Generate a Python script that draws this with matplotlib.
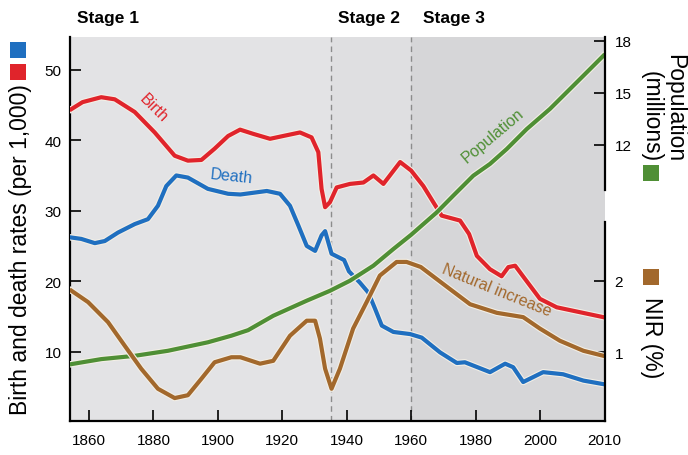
import matplotlib
matplotlib.use("Agg")
import matplotlib.pyplot as plt
import matplotlib.patheffects as pe
from matplotlib.patches import Rectangle

plt.rcParams['font.family'] = ['Liberation Sans', 'DejaVu Sans']

# x positions follow the drawn axis (the last tick, labelled 2010, sits at 2020)
birth_years = [1854.5, 1858, 1863.8, 1868, 1874.2, 1880.4, 1886.6, 1890.7, 1894.9, 1899, 1903.2,
               1906.9, 1911, 1916.2, 1920.3, 1925.5, 1929.1, 1931.2, 1932.2, 1933.3, 1934.8, 1936.9,
               1941, 1945.2, 1948.3, 1951.4, 1956.6, 1960, 1963.8, 1966.9, 1969.5, 1975.2, 1978,
               1980.4, 1984.5, 1988.1, 1990.2, 1992.3, 1995.4, 2000, 2005.2, 2011.4, 2019.7]
birth = [44.4, 45.4, 46.1, 45.8, 44.0, 41.1, 37.8, 37.1, 37.2, 38.8, 40.6,
         41.5, 40.9, 40.2, 40.6, 41.1, 40.4, 38.3, 33.1, 30.5, 31.2, 33.3,
         33.8, 34.0, 35.0, 33.8, 36.9, 35.7, 33.5, 31.2, 29.3, 28.6, 26.7,
         23.6, 21.7, 20.7, 22.0, 22.2, 20.3, 17.5, 16.3, 15.7, 14.9]

death_years = [1854.5, 1857.6, 1861.8, 1864.9, 1869, 1874.2, 1878.3, 1881.4, 1884, 1887.1, 1890.7,
               1896.9, 1903.2, 1907, 1915.2, 1919.3, 1922.4, 1925, 1927.6, 1930.2, 1932.2, 1933.3,
               1934.3, 1935.3, 1939.2, 1940.7, 1944.1, 1946.7, 1948.8, 1950.9, 1954.5, 1959.7,
               1963.3, 1969, 1974.2, 1976.7, 1984.5, 1989.2, 1991.7, 1994.8, 2001, 2007.2, 2013.5, 2019.7]
death = [26.2, 26.0, 25.4, 25.7, 26.9, 28.1, 28.8, 30.7, 33.5, 35.0, 34.7,
         33.1, 32.4, 32.3, 32.8, 32.4, 30.7, 27.9, 25.0, 24.3, 26.5, 27.1,
         25.5, 23.9, 23.0, 21.4, 19.8, 18.4, 16.1, 13.7, 12.8, 12.5,
         12.0, 9.9, 8.4, 8.5, 7.1, 8.3, 7.8, 5.7, 7.1, 6.8, 5.9, 5.4]

nir_years = [1854.5, 1859.7, 1865.9, 1871.1, 1876.2, 1881.4, 1886.6, 1890.7, 1894.9, 1899, 1904.2,
             1907, 1913.1, 1917.2, 1922.4, 1927.6, 1930.2, 1931.7, 1933.3, 1935.3, 1937.9, 1942,
             1946.2, 1950.3, 1955.5, 1958.6, 1963, 1972.1, 1978.3, 1986.6, 1994.8, 2000, 2006.2,
             2013.5, 2019.7]
nir = [1.86, 1.70, 1.42, 1.09, 0.77, 0.49, 0.36, 0.40, 0.63, 0.86, 0.93,
       0.93, 0.84, 0.88, 1.23, 1.44, 1.44, 1.19, 0.77, 0.49, 0.77, 1.33,
       1.70, 2.07, 2.26, 2.26, 2.19, 1.88, 1.67, 1.55, 1.49, 1.33, 1.16,
       1.02, 0.95]

pop_years = [1854.5, 1863.8, 1874.2, 1884.5, 1896.9, 1904.2, 1909.4, 1917.2, 1927.6, 1934.8, 1941,
             1948.3, 1954.5, 1960, 1968, 1973.1, 1979.3, 1984.5, 1989.7, 1995.9, 2003.1, 2008.3,
             2013.5, 2019.7]
population = [-0.66, -0.37, -0.18, 0.11, 0.60, 0.98, 1.30, 2.13, 3.00, 3.57, 4.15,
              5.02, 5.98, 6.80, 8.10, 9.06, 10.21, 10.89, 11.75, 12.90, 14.06, 15.02,
              15.98, 17.13]

xtick_pos = [1860, 1880, 1900, 1920, 1940, 1960, 1980, 2000, 2020]
xtick_labels = ["1860", "1880", "1900", "1920", "1940", "1960", "1980", "2000", "2010"]
stage_lines = [1935, 1960]

red = '#e0242b'
blue = '#1f6fc0'
green = '#4f8f35'
brown = '#a2682c'
halo = [pe.Stroke(linewidth=4.6, foreground='#f3efe6'), pe.Normal()]

fig = plt.figure(figsize=(6.88, 4.56), dpi=100)
ax = fig.add_axes([70/688, 1-422/456, 535/688, 384/456])

ax.axvspan(1854.1, 1935, color='#e3e3e5', lw=0, zorder=0)
ax.axvspan(1935, 1960, color='#dfdfe1', lw=0, zorder=0)
ax.axvspan(1960, 2020.2, color='#d6d6d8', lw=0, zorder=0)
for x in stage_lines:
    ax.axvline(x, color='#8c8c8c', lw=1, ls=(0, (4, 3)), zorder=1)

ax.plot(birth_years, birth, color=red, lw=3, solid_joinstyle='round', path_effects=halo, zorder=3)
ax.plot(death_years, death, color=blue, lw=3, solid_joinstyle='round', path_effects=halo, zorder=3)
ax.set_xlim(1854.1, 2020.2)
ax.set_ylim(0.17, 54.64)

ax2 = ax.twinx()
ax2.plot(pop_years, population, color=green, lw=3, solid_joinstyle='round', path_effects=halo)
ax2.set_ylim(-3.94, 18.21)

ax3 = ax.twinx()
ax3.plot(nir_years, nir, color=brown, lw=3, solid_joinstyle='round', path_effects=halo)
ax3.set_ylim(0.04, 5.40)

for a in (ax, ax2, ax3):
    a.spines['top'].set_visible(False)
    for s in a.spines.values():
        s.set_linewidth(1.6)
ax.spines['right'].set_visible(False)
for a in (ax2, ax3):
    a.spines['left'].set_visible(False)
    a.spines['bottom'].set_visible(False)
ax2.spines['right'].set_bounds(9.39, 18.21)
ax3.spines['right'].set_bounds(0.04, 2.82)

ax.set_xticks(xtick_pos[:-1] + [xtick_pos[-1]])
ax.set_xticklabels(xtick_labels)
ax.set_yticks([10, 20, 30, 40, 50])
ax2.set_yticks([12, 15, 18])
ax3.set_yticks([1, 2])
ax.tick_params(direction='in', length=8, width=1.2, labelsize=11, pad=6)
ax.tick_params(axis='x', pad=9)
ax.xaxis.get_major_ticks()[-1].tick1line.set_visible(False)
for a in (ax2, ax3):
    a.tick_params(direction='in', length=8, width=1.2, labelsize=11, pad=7)

ax.text(1879.9, 44.7, "Birth", color=red, fontsize=11.5, rotation=-45, ha='center', va='center')
ax.text(1904.1, 34.9, "Death", color=blue, fontsize=11.5, rotation=-6, ha='center', va='center')
ax.text(1985.4, 40.8, "Population", color=green, fontsize=11.5, rotation=40, ha='center', va='center')
ax.text(1986.7, 18.8, "Natural increase", color=brown, fontsize=11.5, rotation=-22, ha='center', va='center')

fig.text(21/688, 1-250/456, "Birth and death rates (per 1,000)", rotation=90,
         fontsize=16.5, ha='center', va='center')
fig.text(663/688, 1-108/456, "Population\n(millions)", rotation=270, fontsize=16.5,
         ha='center', va='center', multialignment='right', linespacing=1.05)
fig.text(652/688, 1-338/456, "NIR (%)", rotation=270, fontsize=16.5, ha='center', va='center')

stage_font = ['Liberation Sans Narrow', 'Liberation Sans', 'DejaVu Sans']
for label, x in [("Stage 1", 77), ("Stage 2", 338), ("Stage 3", 423)]:
    fig.text(x/688, 1-18/456, label, fontsize=12.5, fontweight='bold', family=stage_font,
             ha='left', va='center')

for color, (x0, y0) in [(blue, (10, 43)), (red, (10, 65)), (green, (643, 166)), (brown, (643, 270))]:
    fig.add_artist(Rectangle((x0/688, 1-(y0+16)/456), 16/688, 16/456,
                             transform=fig.transFigure, color=color, lw=0))

fig.savefig("out.png", dpi=100)
